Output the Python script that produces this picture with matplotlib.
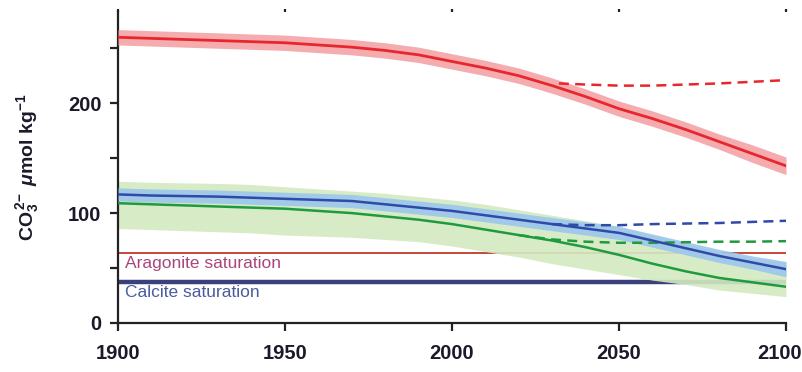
import matplotlib
matplotlib.use("Agg")
import matplotlib.pyplot as plt
import matplotlib.transforms as mtransforms

# Carbonate ion concentration, decadal values 1900-2100
years = [1900, 1910, 1920, 1930, 1940, 1950, 1960, 1970, 1980, 1990, 2000,
         2010, 2020, 2030, 2040, 2050, 2060, 2070, 2080, 2090, 2100]

red_mean = [260, 259, 258, 257, 256, 255, 253, 251, 248, 244, 238,
            232, 225, 216, 206, 195, 186, 176, 165, 154, 143]
red_err = [7, 7, 7, 7, 7, 7, 7, 7, 7, 7, 7, 7, 7, 7, 7, 7, 7, 7, 7, 8, 8]

blue_mean = [117, 116, 115.5, 115, 114, 113, 112, 111, 108, 105, 102,
             98, 94, 90, 86, 82, 75, 68, 61, 55, 49]
blue_err = [6, 6, 6, 6, 6, 6, 6, 6, 6, 6, 6, 6, 6, 6, 6, 6, 6, 6, 6, 6, 7]

green_mean = [109, 108, 107, 106, 105, 104, 102, 100, 97, 94, 90,
              85, 80, 75, 69, 62, 54, 47, 41, 37, 33]
green_hi = [129, 128, 127.5, 127, 126, 124, 122, 120, 118, 115, 112,
            108, 103, 98, 93, 88, 80, 72, 65, 59, 55]
green_lo = [86, 85, 84, 83, 82, 80, 79, 78, 76, 74, 70,
            65, 60, 54, 49, 44, 39, 35, 30, 27, 24]

# Constant-emission (dashed) scenarios
dash_years_red = [2032, 2040, 2050, 2060, 2070, 2080, 2090, 2100]
red_dash = [218, 217, 216, 216, 217, 218, 219.5, 221]
dash_years_blue = [2030, 2040, 2050, 2060, 2070, 2080, 2090, 2100]
blue_dash = [90, 89, 89, 90, 90.5, 91, 92, 93]
dash_years_green = [2020, 2030, 2040, 2050, 2060, 2070, 2080, 2090, 2100]
green_dash = [80, 76, 74, 73, 73, 73.5, 74, 74, 74.5]

aragonite_sat = 63.6
calcite_sat = 37

FONT = ["Liberation Sans", "DejaVu Sans"]
plt.rcParams["font.family"] = FONT
plt.rcParams["mathtext.fontset"] = "custom"
plt.rcParams["mathtext.rm"] = "Liberation Sans:bold"
plt.rcParams["mathtext.bf"] = "Liberation Sans:bold"
plt.rcParams["mathtext.it"] = "Liberation Sans:bold:italic"

fig = plt.figure(figsize=(8.02, 3.72), dpi=100)
ax = fig.add_axes([118 / 802, 1 - 323 / 372, (786 - 118) / 802, (323 - 12) / 372])

# saturation horizons sit under the model bands
ax.plot([1900, 2100], [aragonite_sat, aragonite_sat], color="#c0392b", lw=1.3, zorder=1)
ax.plot([1900, 2100], [calcite_sat, calcite_sat], color="#39407a", lw=3.2, zorder=1)
ax.text(1902, aragonite_sat - 2.5, "Aragonite saturation", color="#a8487a",
        fontsize=12.5, va="top", ha="left", zorder=1)
ax.text(1902, calcite_sat - 2.5, "Calcite saturation", color="#4a5c9e",
        fontsize=12.5, va="top", ha="left", zorder=1)

red_hi = [m + e for m, e in zip(red_mean, red_err)]
red_lo = [m - e for m, e in zip(red_mean, red_err)]
blue_hi = [m + e for m, e in zip(blue_mean, blue_err)]
blue_lo = [m - e for m, e in zip(blue_mean, blue_err)]

ax.fill_between(years, green_lo, green_hi, color="#d3eac0", alpha=0.9, lw=0, zorder=2)
ax.fill_between(years, blue_lo, blue_hi, color="#9cc6ec", alpha=0.9, lw=0, zorder=3)
ax.fill_between(years, red_lo, red_hi, color="#f3a3a6", alpha=0.9, lw=0, zorder=3)

ax.plot(dash_years_green, green_dash, color="#1f9a3e", lw=1.8, ls=(0, (4, 2.5)), zorder=4)
ax.plot(dash_years_blue, blue_dash, color="#2f4aa8", lw=1.8, ls=(0, (4, 2.5)), zorder=4)
ax.plot(dash_years_red, red_dash, color="#e8262e", lw=1.8, ls=(0, (4, 2.5)), zorder=4)

ax.plot(years, green_mean, color="#1f9a3e", lw=1.8, zorder=5)
ax.plot(years, blue_mean, color="#2f4aa8", lw=1.8, zorder=5)
ax.plot(years, red_mean, color="#e8262e", lw=2.0, zorder=5)

ax.set_xlim(1900, 2100)
ax.set_ylim(0, 283)
ax.set_xticks([1900, 1950, 2000, 2050, 2100])
ax.set_yticks([0, 50, 100, 150, 200, 250])
ax.set_yticklabels(["0", "", "100", "", "200", ""])

for s in ["top", "right"]:
    ax.spines[s].set_visible(False)
for s in ["left", "bottom"]:
    ax.spines[s].set_linewidth(1.6)
    ax.spines[s].set_color("#222222")

ax.tick_params(axis="both", direction="out", length=6, width=1.6, color="#222222",
               labelsize=14.5, pad=6)
ax.tick_params(axis="x", pad=9)
ax.tick_params(axis="x", top=True, labeltop=False)
for lbl in ax.get_xticklabels() + ax.get_yticklabels():
    lbl.set_fontweight("bold")
    lbl.set_color("#1a1a2a")
for t in ax.xaxis.get_major_ticks():
    t.tick2line.set_markersize(2)

# keep the last year label inside the canvas
last = ax.get_xticklabels()[-1]
last.set_transform(last.get_transform() +
                   mtransforms.ScaledTranslation(-6 / 100, 0, fig.dpi_scale_trans))

ax.set_ylabel(r"CO$_3^{\,2\!-}$ $\mathit{\mu}$mol kg$^{-1}$", fontsize=14,
              fontweight="bold", color="#1a1a2a")
ax.yaxis.set_label_coords(-0.115, 0.5)

fig.savefig("out.png", dpi=100)
